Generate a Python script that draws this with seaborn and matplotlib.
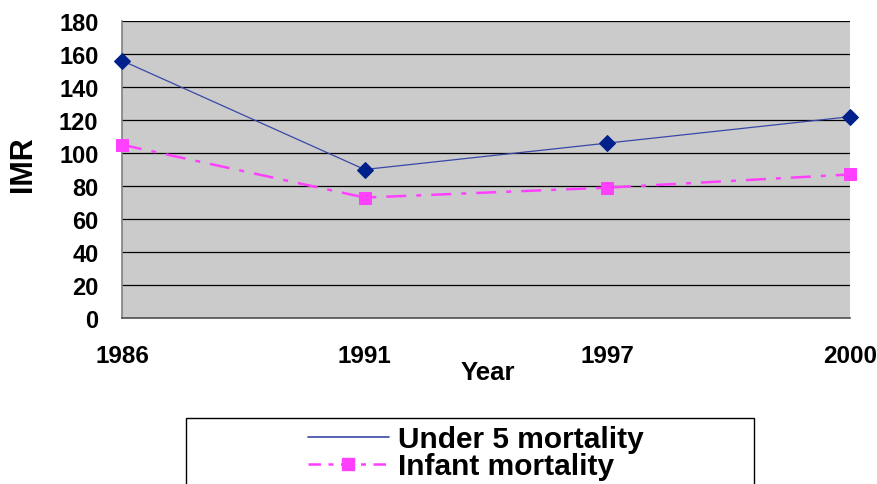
import matplotlib
matplotlib.use("Agg")
import matplotlib.pyplot as plt
from matplotlib.lines import Line2D
from matplotlib.patches import Rectangle
import seaborn as sns
import pandas as pd

years = ["1986", "1991", "1997", "2000"]
under5 = [156, 90, 106, 122]
infant = [105, 73, 79, 87]
series_names = ["Under 5 mortality", "Infant mortality"]
y_ticks = [0, 20, 40, 60, 80, 100, 120, 140, 160, 180]

sns.set_style("white")
plt.rcParams["font.family"] = ["Liberation Sans", "DejaVu Sans"]
plt.rcParams["font.weight"] = "bold"
plt.rcParams["text.color"] = "black"
plt.rcParams["axes.labelcolor"] = "black"
plt.rcParams["xtick.color"] = "black"
plt.rcParams["ytick.color"] = "black"

df = pd.DataFrame({"pos": list(range(len(years))), "year": years,
                   "u5": under5, "inf": infant})

fig = plt.figure(figsize=(8.77, 4.85), dpi=100)
ax = fig.add_axes([122 / 877, 1 - 319 / 485, 728 / 877, 297 / 485])
ax.set_facecolor("#CBCBCB")

sns.lineplot(data=df, x="pos", y="u5", ax=ax, color="#3848A8", linewidth=0.9,
             marker="D", markersize=7.8, markerfacecolor="#00208C",
             markeredgecolor="#00208C", clip_on=False, zorder=4)
sns.lineplot(data=df, x="pos", y="inf", ax=ax, color="#FF40FF", linewidth=1.8,
             linestyle=(0, (8, 4, 2, 4)), marker="s", markersize=8.8,
             markerfacecolor="#FF40FF", markeredgecolor="#FF40FF",
             clip_on=False, zorder=3)

ax.set_xlim(0, len(years) - 1)
ax.set_ylim(0, 180)
ax.set_yticks(y_ticks)
ax.set_xticks(range(len(years)))
ax.set_xticklabels(years)
ax.yaxis.grid(True, color="black", linewidth=0.9)
ax.set_axisbelow(True)

for s in ["top", "right"]:
    ax.spines[s].set_visible(False)
ax.spines["left"].set_color("#808080")
ax.spines["left"].set_linewidth(1.2)
ax.spines["bottom"].set_color("#505050")
ax.spines["bottom"].set_linewidth(1.2)

ax.tick_params(axis="y", length=6, width=1, color="#505050", pad=11,
               labelsize=17)
ax.tick_params(axis="x", length=6, width=1, color="#505050", pad=13,
               labelsize=17.5)
for lab in ax.get_xticklabels() + ax.get_yticklabels():
    lab.set_fontweight("bold")
    lab.set_color("black")

ax.set_xlabel("Year", fontsize=18.5, fontweight="bold", color="black")
ax.set_ylabel("IMR", fontsize=22, fontweight="bold", color="black")
ax.xaxis.set_label_coords(0.503, -0.14)
ax.yaxis.set_label_coords(-0.115, 0.52)

# legend box
fig.patches.append(Rectangle((186 / 877, -0.05), (754 - 186) / 877,
                             0.05 + 1 - 419 / 485, transform=fig.transFigure,
                             facecolor="white", edgecolor="black",
                             linewidth=1.0, zorder=1))
handles = [Line2D([], [], color="#3848A8", linewidth=1.2),
           Line2D([], [], color="#FF40FF", linewidth=1.8,
                  linestyle=(0, (5, 3, 2, 3)), marker="s", markersize=9,
                  markerfacecolor="#FF40FF", markeredgecolor="#FF40FF")]
leg = fig.legend(handles, series_names, loc="upper left",
                 bbox_to_anchor=(308 / 877, 1 - 426 / 485), frameon=False,
                 prop={"size": 21.5, "weight": "bold"}, handlelength=2.7,
                 handletextpad=0.3, labelspacing=-0.02, borderpad=0,
                 borderaxespad=0)
for t in leg.get_texts():
    t.set_color("black")
leg.set_zorder(5)

fig.savefig("out.png", dpi=100)
